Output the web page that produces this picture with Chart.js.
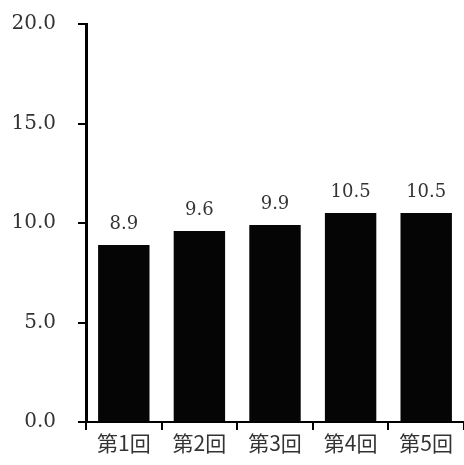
<!DOCTYPE html>
<html lang="ja">
<head>
  <meta charset="UTF-8" />
  <title>第1回〜第5回</title>
  <script src="https://cdn.jsdelivr.net/npm/chart.js"></script>
  <style>
    html, body { margin: 0; padding: 0; background: #fff; }
    #wrap { width: 464px; height: 465px; }
  </style>
</head>
<body>
  <div id="wrap"><canvas id="chart"></canvas></div>
  <script>
    const categories = ['第1回', '第2回', '第3回', '第4回', '第5回'];
    const values = [8.9, 9.6, 9.9, 10.5, 10.5];
    const yTicks = [0, 5, 10, 15, 20];

    const serif = "'DejaVu Serif', 'Liberation Serif', serif";
    const cjk = "'Noto Sans CJK JP', sans-serif";

    // value labels above bars
    const valueLabels = {
      id: 'valueLabels',
      afterDatasetsDraw(chart) {
        const ctx = chart.ctx;
        const meta = chart.getDatasetMeta(0);
        ctx.save();
        ctx.fillStyle = '#333';
        ctx.font = '18px ' + serif;
        ctx.textAlign = 'center';
        ctx.textBaseline = 'alphabetic';
        meta.data.forEach((bar, i) => {
          ctx.fillText(values[i].toFixed(1), bar.x, bar.y - 16);
        });
        ctx.restore();
      }
    };

    new Chart(document.getElementById('chart'), {
      type: 'bar',
      data: {
        labels: categories,
        datasets: [{
          data: values,
          backgroundColor: '#050505',
          borderWidth: 0,
          categoryPercentage: 0.68,
          barPercentage: 1.0
        }]
      },
      options: {
        responsive: true,
        maintainAspectRatio: false,
        animation: false,
        layout: { padding: { top: 24, right: 0, left: 0, bottom: 0 } },
        plugins: { legend: { display: false }, tooltip: { enabled: false } },
        scales: {
          x: {
            grid: { drawOnChartArea: false, drawTicks: true, tickLength: 8, color: '#000', lineWidth: 2, offset: true },
            border: { color: '#000', width: 2 },
            ticks: { color: '#333', font: { size: 21, family: cjk }, padding: 0 },
            afterFit(scale) { scale.height = 43; }
          },
          y: {
            min: 0,
            max: 20,
            afterBuildTicks(scale) { scale.ticks = yTicks.map(v => ({ value: v })); },
            grid: { drawOnChartArea: false, drawTicks: true, tickLength: 8, color: '#000', lineWidth: 2 },
            border: { color: '#000', width: 3 },
            ticks: {
              color: '#333',
              font: { size: 20, family: serif },
              padding: 22,
              callback: v => Number(v).toFixed(1)
            },
            afterFit(scale) { scale.width = 86; scale.paddingTop = 0; scale.paddingBottom = 0; }
          }
        }
      },
      plugins: [valueLabels]
    });
  </script>
</body>
</html>
